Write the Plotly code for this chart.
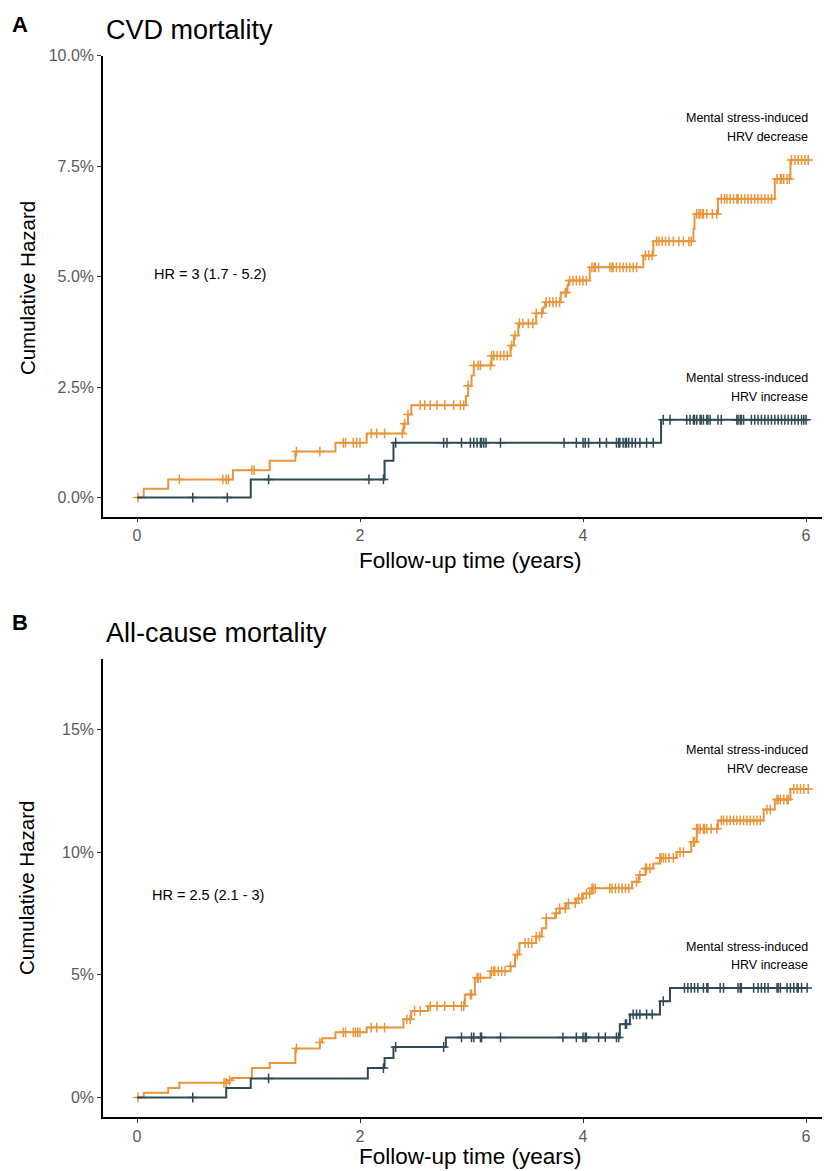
import plotly.graph_objects as go

# ---------------- data ----------------
# Panel A: CVD mortality
a_dec_times = [0, 0.06, 0.28, 0.86, 1.19, 1.42, 1.78, 2.06, 2.39, 2.43, 2.46, 2.95, 2.97, 3.00, 3.02,
               3.18, 3.35, 3.38, 3.42, 3.58, 3.64, 3.66, 3.80, 3.86, 3.87, 4.06, 4.54, 4.63, 4.99,
               5.00, 5.21, 5.72, 5.86]
a_dec_haz = [0, 0.0020, 0.0041, 0.0062, 0.0083, 0.0104, 0.0124, 0.0145, 0.0167, 0.0188, 0.0209,
             0.0230, 0.0253, 0.0276, 0.0299, 0.0321, 0.0344, 0.0367, 0.0394, 0.0417, 0.0430, 0.0442,
             0.0464, 0.0480, 0.0491, 0.0521, 0.0548, 0.0580, 0.0608, 0.0642, 0.0676, 0.0721, 0.0764]
a_inc_times = [0, 1.02, 2.22, 2.30, 4.70]
a_inc_haz = [0, 0.0041, 0.0083, 0.0124, 0.0176]

a_dec_censor = [0.01, 0.38, 0.77, 0.80, 0.82, 1.03, 1.05, 1.43, 1.64, 1.85, 1.87, 1.94, 1.97, 2.00,
                2.10, 2.15, 2.22, 2.38, 2.40, 2.43, 2.54, 2.58, 2.63, 2.69, 2.76, 2.84, 2.90, 2.93,
                2.97, 3.02, 3.06, 3.08, 3.17, 3.18, 3.20, 3.23, 3.26, 3.29, 3.32, 3.36, 3.39, 3.43,
                3.46, 3.51, 3.55, 3.58, 3.63, 3.67, 3.70, 3.73, 3.76, 3.79, 3.84, 3.85, 3.88, 3.91,
                3.94, 3.97, 4.00, 4.03, 4.08, 4.10, 4.11, 4.14, 4.24, 4.26, 4.27, 4.30, 4.33, 4.36,
                4.39, 4.42, 4.45, 4.48, 4.56, 4.59, 4.62, 4.66, 4.68, 4.71, 4.74, 4.77, 4.81, 4.86,
                4.90, 4.95, 4.97, 5.02, 5.04, 5.05, 5.07, 5.08, 5.11, 5.16, 5.20, 5.24, 5.27, 5.29,
                5.32, 5.35, 5.38, 5.39, 5.42, 5.45, 5.48, 5.51, 5.54, 5.57, 5.60, 5.63, 5.66, 5.69,
                5.74, 5.77, 5.78, 5.80, 5.83, 5.85, 5.87, 5.90, 5.93, 5.96, 5.99, 6.02]
a_inc_censor = [0.50, 0.81, 1.18, 2.08, 2.21, 2.32, 2.75, 2.78, 2.91, 2.99, 3.02, 3.05, 3.08, 3.09,
                3.11, 3.13, 3.26, 3.83, 3.94, 4.00, 4.02, 4.05, 4.15, 4.21, 4.30, 4.32, 4.33, 4.36,
                4.38, 4.39, 4.41, 4.44, 4.47, 4.51, 4.57, 4.63, 4.72, 4.78, 4.93, 4.96, 4.99, 5.00,
                5.02, 5.05, 5.06, 5.08, 5.11, 5.12, 5.14, 5.21, 5.24, 5.38, 5.39, 5.41, 5.42, 5.44,
                5.51, 5.54, 5.57, 5.60, 5.63, 5.66, 5.69, 5.72, 5.75, 5.78, 5.81, 5.84, 5.87, 5.90,
                5.93, 5.96, 5.98, 6.00]

# Panel B: All-cause mortality
b_dec_times = [0, 0.06, 0.28, 0.38, 0.81, 0.85, 1.03, 1.19, 1.42, 1.64, 1.66, 1.78, 2.06, 2.39, 2.46,
               2.61, 2.94, 3.03, 3.17, 3.35, 3.39, 3.43, 3.58, 3.63, 3.67, 3.75, 3.79, 3.85, 3.94,
               4.00, 4.08, 4.44, 4.50, 4.56, 4.63, 4.69, 4.84, 4.97, 5.02, 5.21, 5.62, 5.72, 5.86]
b_dec_haz = [0, 0.0019, 0.0039, 0.0060, 0.0070, 0.0080, 0.0120, 0.0141, 0.0200, 0.0224, 0.0242,
             0.0266, 0.0285, 0.0319, 0.0353, 0.0373, 0.0420, 0.0488, 0.0515, 0.0535, 0.0583, 0.0630,
             0.0657, 0.0690, 0.0731, 0.0751, 0.0771, 0.0792, 0.0812, 0.0832, 0.0853, 0.0880, 0.0907,
             0.0934, 0.0954, 0.0977, 0.1001, 0.1042, 0.1096, 0.1130, 0.1174, 0.1215, 0.1258]
b_inc_times = [0, 0.80, 1.02, 2.07, 2.22, 2.30, 2.77, 4.33, 4.42, 4.69, 4.78]
b_inc_haz = [0, 0.0039, 0.0078, 0.0120, 0.0161, 0.0206, 0.0245, 0.0299, 0.0339, 0.0393, 0.0447]

b_dec_censor = [0.01, 0.78, 0.80, 0.83, 1.43, 1.64, 1.85, 1.87, 1.94, 1.96, 1.98, 2.00, 2.10, 2.15,
                2.22, 2.42, 2.45, 2.49, 2.54, 2.63, 2.69, 2.76, 2.84, 2.91, 2.93, 2.99, 3.00, 3.05,
                3.06, 3.08, 3.18, 3.20, 3.21, 3.24, 3.27, 3.30, 3.35, 3.41, 3.48, 3.51, 3.54, 3.58,
                3.61, 3.67, 3.76, 3.79, 3.84, 3.87, 3.93, 3.96, 3.99, 4.03, 4.06, 4.08, 4.09, 4.11,
                4.24, 4.26, 4.29, 4.32, 4.35, 4.38, 4.41, 4.48, 4.51, 4.56, 4.57, 4.60, 4.69, 4.70,
                4.72, 4.74, 4.77, 4.81, 4.87, 4.90, 4.99, 5.00, 5.02, 5.03, 5.05, 5.08, 5.09, 5.11,
                5.15, 5.20, 5.24, 5.26, 5.29, 5.32, 5.35, 5.38, 5.41, 5.44, 5.47, 5.50, 5.53, 5.56,
                5.59, 5.65, 5.68, 5.74, 5.75, 5.77, 5.80, 5.83, 5.84, 5.89, 5.92, 5.95, 5.98, 6.02]
b_inc_censor = [0.50, 1.18, 2.21, 2.32, 2.75, 2.91, 3.00, 3.02, 3.08, 3.09, 3.26, 3.82, 3.94, 4.00,
                4.02, 4.03, 4.14, 4.20, 4.30, 4.32, 4.38, 4.39, 4.45, 4.48, 4.51, 4.57, 4.62, 4.72,
                4.91, 4.94, 4.97, 5.00, 5.03, 5.08, 5.11, 5.12, 5.23, 5.26, 5.39, 5.41, 5.42, 5.53,
                5.57, 5.60, 5.63, 5.66, 5.74, 5.75, 5.77, 5.83, 5.86, 5.89, 5.92, 5.93, 5.96, 6.01]

x_ticks = [0, 2, 4, 6]
a_y_ticks = [0, 0.025, 0.05, 0.075, 0.10]
b_y_ticks = [0, 0.05, 0.10, 0.15]

ORANGE = "#E8953B"
DARK = "#2F4A54"
FONT = "Liberation Sans, Arial, sans-serif"
PAGE_W, PAGE_H = 830, 1171
OX, OY = 8, 8            # default body margin of the html page
W, H = PAGE_W - OX, PAGE_H - OY


def step_value(times, haz, t):
    v = haz[0]
    for ti, hi in zip(times, haz):
        if ti <= t:
            v = hi
    return v


fig = go.Figure()


def add_curve(times, haz, censor, color, xa, ya):
    end = max(censor + times)
    fig.add_trace(go.Scatter(x=times + [end], y=haz + [haz[-1]], mode="lines",
                             line=dict(color=color, width=2, shape="hv"),
                             xaxis=xa, yaxis=ya, showlegend=False, hoverinfo="skip"))
    fig.add_trace(go.Scatter(x=censor, y=[step_value(times, haz, t) for t in censor], mode="markers",
                             marker=dict(symbol="cross-thin", size=7, color=color,
                                         line=dict(color=color, width=1.5)),
                             xaxis=xa, yaxis=ya, showlegend=False, hoverinfo="skip"))


add_curve(a_dec_times, a_dec_haz, a_dec_censor, ORANGE, "x", "y")
add_curve(a_inc_times, a_inc_haz, a_inc_censor, DARK, "x", "y")
add_curve(b_dec_times, b_dec_haz, b_dec_censor, ORANGE, "x2", "y2")
add_curve(b_inc_times, b_inc_haz, b_inc_censor, DARK, "x2", "y2")


def px(x):
    return (x - OX) / W


def py(y):
    return 1 - (y - OY) / H


TICKFONT = dict(family=FONT, size=16, color="#5a5a5a")
xrange = [-0.305, 6.215]
common_x = dict(range=xrange, domain=[px(103), 1], tickvals=x_ticks, ticktext=[str(v) for v in x_ticks],
                showline=True, linecolor="black", linewidth=1.5, ticks="outside", ticklen=4,
                tickcolor="#333", tickwidth=1, showgrid=False, zeroline=False, tickfont=TICKFONT)
common_y = dict(showline=True, linecolor="black", linewidth=1.5, ticks="outside", ticklen=4,
                tickcolor="#333", tickwidth=1, showgrid=False, zeroline=False, tickfont=TICKFONT)

fig.update_layout(
    width=W, height=H, margin=dict(l=0, r=0, t=0, b=0),
    paper_bgcolor="white", plot_bgcolor="white",
    font=dict(family=FONT),
    xaxis=dict(common_x, anchor="y"),
    yaxis=dict(common_y, anchor="x", domain=[py(512), py(48)], range=[-0.0043, 0.10],
               tickvals=a_y_ticks, tickformat=".1%"),
    xaxis2=dict(common_x, anchor="y2"),
    yaxis2=dict(common_y, anchor="x2", domain=[py(1117), py(655)], range=[-0.0081, 0.179],
                tickvals=b_y_ticks, tickformat=".0%"),
)


def ann(text, x, y, size, color="black", xanchor="center", angle=0, bold=False):
    if bold:
        text = "<b>" + text + "</b>"
    fig.add_annotation(text=text, x=px(x), y=py(y), xref="paper", yref="paper", showarrow=False,
                       xanchor=xanchor, yanchor="middle", textangle=angle,
                       font=dict(family=FONT, size=size, color=color))


ann("A", 10, 17, 22, xanchor="left", bold=True)
ann("B", 10, 619, 22, xanchor="left", bold=True)
ann("CVD mortality", 104, 22, 27, xanchor="left")
ann("All-cause mortality", 104, 629, 27, xanchor="left")
ann("Cumulative Hazard", 27, 282, 20.5, angle=-90)
ann("Cumulative Hazard", 27, 886, 20.5, angle=-90)
ann("Follow-up time (years)", 470, 556, 22.5)
ann("Follow-up time (years)", 470, 1156, 22.5)

ann("HR = 3 (1.7 - 5.2)", 210, 268, 14.5)
ann("HR = 2.5 (2.1 - 3)", 208, 893, 14.5)

for y0, lines in [(111, ("Mental stress-induced", "HRV decrease")),
                  (373, ("Mental stress-induced", "HRV increase")),
                  (747, ("Mental stress-induced", "HRV decrease")),
                  (945, ("Mental stress-induced", "HRV increase"))]:
    ann(lines[0], 810, y0, 12.5, xanchor="right")
    ann(lines[1], 810, y0 + 19, 12.5, xanchor="right")

fig.write_html("out.html")
